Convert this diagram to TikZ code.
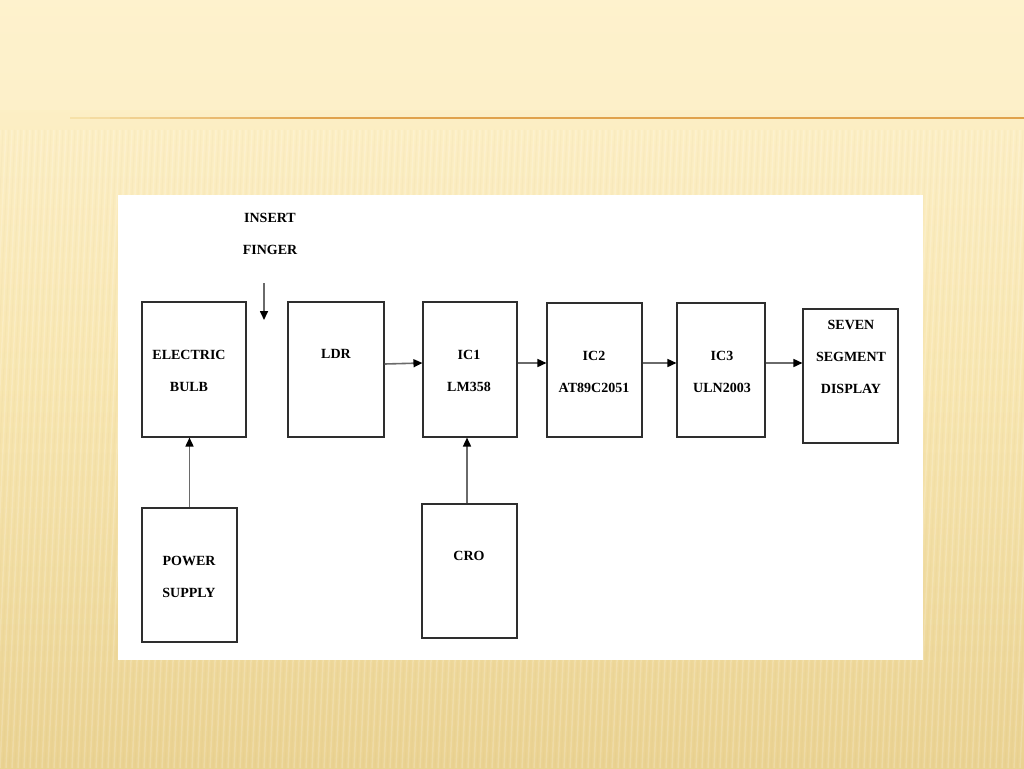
\documentclass[tikz,border=0pt]{standalone}
\usepackage{fontspec}
\setmainfont{Liberation Serif}
\usetikzlibrary{arrows.meta}
\definecolor{bgtop}{HTML}{FEF2CD}
\definecolor{bgmid}{HTML}{F8E6B0}
\definecolor{bgbot}{HTML}{EAD291}
\definecolor{rule}{HTML}{E0A24A}
\definecolor{boxline}{HTML}{2E2E2E}
\definecolor{conn}{HTML}{6A6A6A}
\tikzset{
  blk/.style={draw=boxline, line width=1.1pt, fill=white, inner sep=0pt},
  lbl/.style={font={\fontsize{14}{32}\selectfont\bfseries}, align=center, text=black, inner sep=0pt},
  conn/.style={draw=conn, line width=1.6pt, -{Triangle[length=9pt,width=8pt,color=black]}},
}
\begin{document}
\begin{tikzpicture}[x=1pt,y=-1pt]
\useasboundingbox (0,0) rectangle (1024,768);
% background
\shade[top color=bgtop, bottom color=bgbot, middle color=bgmid] (0,0) rectangle (1024,768);
\fill[bgtop, opacity=0.6] (0,0) rectangle (1024,110);
\foreach \i in {0,6,...,1050} {
  \draw[white, opacity=0.18, line width=1.5pt] (\i,130) -- (\i-30,768);
}
\foreach \i in {3,9,...,1050} {
  \draw[bgbot!80!black, opacity=0.05, line width=1pt] (\i,130) -- (\i-30,768);
}
% rule
\foreach \k in {0,...,11} {
  \pgfmathsetmacro{\pc}{int(8*\k+8)}
  \fill[rule!\pc!bgmid] ({70+20*\k},117) rectangle ({90.5+20*\k},119.2);
}
\fill[rule] (310,117) rectangle (1024,119.2);
% white panel
\fill[white] (118,195) rectangle (923,660);

% blocks
\node[blk, minimum width=104pt, minimum height=135pt] (bulb) at (194,369.5) {};
\node[blk, minimum width=96pt, minimum height=135pt] (ldr) at (336,369.5) {};
\node[blk, minimum width=94pt, minimum height=135pt] (ic1) at (470,369.5) {};
\node[blk, minimum width=95pt, minimum height=134pt] (ic2) at (594.5,370) {};
\node[blk, minimum width=88pt, minimum height=134pt] (ic3) at (721,370) {};
\node[blk, minimum width=95pt, minimum height=134pt] (seg) at (850.5,376) {};
\node[blk, minimum width=95pt, minimum height=134pt] (psu) at (189.5,575) {};
\node[blk, minimum width=95pt, minimum height=134pt] (cro) at (469.5,571) {};

% labels
\node[lbl] (tbulb) at (189,371) {ELECTRIC\\BULB};
\node[lbl] (tldr) at (336,354) {LDR};
\node[lbl] (tic1) at (469,371) {IC1\\LM358};
\node[lbl] (tic2) at (594,372) {IC2\\AT89C2051};
\node[lbl] (tic3) at (722,372) {IC3\\ULN2003};
\node[lbl] (tseg) at (851,357) {SEVEN\\SEGMENT\\DISPLAY};
\node[lbl] (tpsu) at (189,577) {POWER\\SUPPLY};
\node[lbl] (tcro) at (469,556) {CRO};
\node[lbl] (tfinger) at (270,234) {INSERT\\FINGER};

% connectors
\coordinate (fa) at (264,283);
\coordinate (fb) at (264,320);
\draw[conn] (fa) -- (fb);
\draw[conn] (psu.north) -- (bulb.south -| psu.north);
\draw[conn] (cro.north -| 467,0) -- (ic1.south -| 467,0);
\draw[conn] (ldr.east |- 0,364) -- (ic1.west |- 0,363);
\draw[conn] (ic1.east |- 0,363) -- (ic2.west |- 0,363);
\draw[conn] (ic2.east |- 0,363) -- (ic3.west |- 0,363);
\draw[conn] (ic3.east |- 0,363) -- (seg.west |- 0,363);
\end{tikzpicture}
\end{document}
